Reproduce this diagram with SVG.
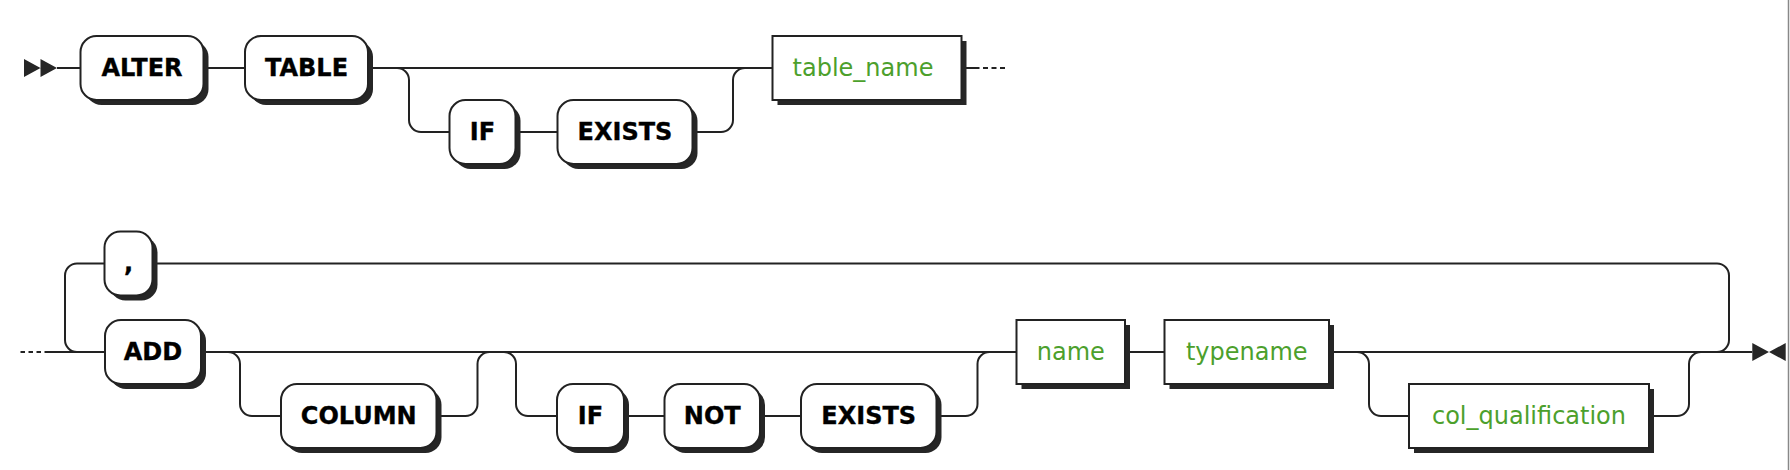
<svg xmlns="http://www.w3.org/2000/svg" width="1790" height="470" viewBox="0 0 1790 470">
<style>
.bg{fill:#fff}
.ln{fill:none;stroke:#222;stroke-width:2}
.dash{fill:none;stroke:#222;stroke-width:2;stroke-dasharray:4.5 3.5}
.sh{fill:#262626}
.box{fill:#fff;stroke:#222;stroke-width:2}
.kw{font-family:"DejaVu Sans",Verdana,sans-serif;font-weight:bold;font-size:24px;fill:#000;stroke:#000;stroke-width:0.35;text-anchor:middle}
.nt{font-family:"DejaVu Sans",Verdana,sans-serif;font-size:24px;fill:#4ca02c;text-anchor:middle}
.mk{fill:#262626}
.edge{stroke:#888;stroke-width:1.5}
</style>
<rect class="bg" x="0" y="0" width="1790" height="470"/>
<line class="edge" x1="1788.5" y1="0" x2="1788.5" y2="470"/>

<g id="connectors">
  <!-- row 1 -->
  <path class="mk" d="M24 59 L24 77 L40.5 68 Z M40.5 59 L40.5 77 L57 68 Z"/>
  <path class="ln" d="M57 68 H80.5"/>
  <path class="ln" d="M203.5 68 H245"/>
  <path class="ln" d="M368 68 H772.5"/>
  <path class="ln" d="M397 68 A12 12 0 0 1 409 80 V120 A12 12 0 0 0 421 132 H449.5"/>
  <path class="ln" d="M515.5 132 H557.5"/>
  <path class="ln" d="M692.5 132 H721 A12 12 0 0 0 733 120 V80 A12 12 0 0 1 745 68"/>
  <path class="ln" d="M961.5 68 H979.5"/>
  <path class="ln" d="M983 68 H1005" style="stroke-dasharray:5 3.5"/>
  <!-- row 2 -->
  <path class="dash" d="M20.5 352 H45"/>
  <path class="ln" d="M45 352 H105"/>
  <path class="ln" d="M77 352 A12 12 0 0 1 65 340 V275.5 A12 12 0 0 1 77 263.5 H104.5"/>
  <path class="ln" d="M152.5 263.5 H1717 A12 12 0 0 1 1729 275.5 V340 A12 12 0 0 1 1717 352"/>
  <path class="ln" d="M201 352 H1016.5"/>
  <path class="ln" d="M228 352 A12 12 0 0 1 240 364 V404 A12 12 0 0 0 252 416 H281"/>
  <path class="ln" d="M436.5 416 H465.5 A12 12 0 0 0 477.5 404 V364 A12 12 0 0 1 489.5 352"/>
  <path class="ln" d="M504 352 A12 12 0 0 1 516 364 V404 A12 12 0 0 0 528 416 H557"/>
  <path class="ln" d="M624 416 H664.5"/>
  <path class="ln" d="M760 416 H801"/>
  <path class="ln" d="M936.5 416 H965.5 A12 12 0 0 0 977.5 404 V364 A12 12 0 0 1 989.5 352"/>
  <path class="ln" d="M1125 352 H1164.5"/>
  <path class="ln" d="M1329 352 H1752.3"/>
  <path class="ln" d="M1357 352 A12 12 0 0 1 1369 364 V404 A12 12 0 0 0 1381 416 H1409"/>
  <path class="ln" d="M1649 416 H1677 A12 12 0 0 0 1689 404 V364 A12 12 0 0 1 1701 352"/>
  <path class="mk" d="M1752.3 343 L1752.3 361 L1769 352 Z M1785.7 343 L1785.7 361 L1769 352 Z"/>
</g>

<g id="n-alter">
  <rect class="sh" x="85.5" y="41" width="123" height="64" rx="16"/>
  <rect class="box" x="80.5" y="36" width="123" height="64" rx="16"/>
  <text class="kw" x="142" y="75.7">ALTER</text>
</g>
<g id="n-table">
  <rect class="sh" x="250" y="41" width="123" height="64" rx="16"/>
  <rect class="box" x="245" y="36" width="123" height="64" rx="16"/>
  <text class="kw" x="306.5" y="75.7">TABLE</text>
</g>
<g id="n-if1">
  <rect class="sh" x="454.5" y="105" width="66" height="64" rx="16"/>
  <rect class="box" x="449.5" y="100" width="66" height="64" rx="16"/>
  <text class="kw" x="482.5" y="139.7">IF</text>
</g>
<g id="n-exists1">
  <rect class="sh" x="562.5" y="105" width="135" height="64" rx="16"/>
  <rect class="box" x="557.5" y="100" width="135" height="64" rx="16"/>
  <text class="kw" x="625" y="139.7">EXISTS</text>
</g>
<g id="n-table_name">
  <rect class="sh" x="777.5" y="41" width="189" height="64"/>
  <rect class="box" x="772.5" y="36" width="189" height="64"/>
  <text class="nt" x="863" y="75.7">table_name</text>
</g>

<g id="n-comma">
  <rect class="sh" x="109.5" y="236.5" width="48" height="64" rx="16"/>
  <rect class="box" x="104.5" y="231.5" width="48" height="64" rx="16"/>
  <text class="kw" x="128.5" y="271.3">,</text>
</g>
<g id="n-add">
  <rect class="sh" x="110" y="325" width="96" height="64" rx="16"/>
  <rect class="box" x="105" y="320" width="96" height="64" rx="16"/>
  <text class="kw" x="153" y="359.5">ADD</text>
</g>
<g id="n-column">
  <rect class="sh" x="286" y="389" width="155.5" height="64" rx="16"/>
  <rect class="box" x="281" y="384" width="155.5" height="64" rx="16"/>
  <text class="kw" x="358.75" y="423.5">COLUMN</text>
</g>
<g id="n-if2">
  <rect class="sh" x="562" y="389" width="67" height="64" rx="16"/>
  <rect class="box" x="557" y="384" width="67" height="64" rx="16"/>
  <text class="kw" x="590.5" y="423.5">IF</text>
</g>
<g id="n-not">
  <rect class="sh" x="669.5" y="389" width="95.5" height="64" rx="16"/>
  <rect class="box" x="664.5" y="384" width="95.5" height="64" rx="16"/>
  <text class="kw" x="712.25" y="423.5">NOT</text>
</g>
<g id="n-exists2">
  <rect class="sh" x="806" y="389" width="135.5" height="64" rx="16"/>
  <rect class="box" x="801" y="384" width="135.5" height="64" rx="16"/>
  <text class="kw" x="868.75" y="423.5">EXISTS</text>
</g>
<g id="n-name">
  <rect class="sh" x="1021.5" y="325" width="108.5" height="64"/>
  <rect class="box" x="1016.5" y="320" width="108.5" height="64"/>
  <text class="nt" x="1070.75" y="359.5">name</text>
</g>
<g id="n-typename">
  <rect class="sh" x="1169.5" y="325" width="164.5" height="64"/>
  <rect class="box" x="1164.5" y="320" width="164.5" height="64"/>
  <text class="nt" x="1246.75" y="359.5">typename</text>
</g>
<g id="n-col_qualification">
  <rect class="sh" x="1414" y="389" width="240" height="64"/>
  <rect class="box" x="1409" y="384" width="240" height="64"/>
  <text class="nt" x="1529" y="423.5">col_qualification</text>
</g>
</svg>
